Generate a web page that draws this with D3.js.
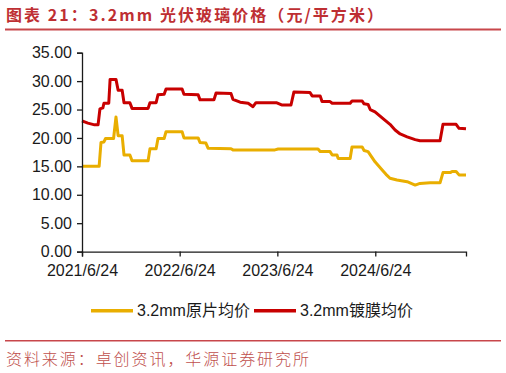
<!DOCTYPE html>
<html>
<head>
<meta charset="utf-8">
<script src="https://cdn.jsdelivr.net/npm/d3@7"></script>
<style>
  html, body { margin: 0; padding: 0; background: #fff; }
  svg { display: block; }
</style>
</head>
<body>
<div id="chart"></div>
<script>
// 图表常量
const WIDTH = 506;
const HEIGHT = 373;

// 3.2mm 原片均价（元/平方米）
const rawDates = [
  '2021-06-24', '2021-08-27', '2021-09-03', '2021-09-14', '2021-09-20', '2021-10-20',
  '2021-10-29', '2021-11-06', '2021-11-21', '2021-11-28', '2021-12-20', '2021-12-28',
  '2022-02-26', '2022-03-05', '2022-03-28', '2022-04-04', '2022-04-27', '2022-05-04',
  '2022-07-03', '2022-07-10', '2022-09-01', '2022-09-08', '2022-09-30', '2022-10-08',
  '2023-01-02', '2023-01-09', '2023-06-15', '2023-06-27', '2023-11-23', '2023-12-01',
  '2024-01-07', '2024-01-15', '2024-02-02', '2024-02-06', '2024-03-22', '2024-03-29',
  '2024-05-06', '2024-05-13', '2024-05-28', '2024-06-23', '2024-07-23', '2024-08-03',
  '2024-08-18', '2024-09-13', '2024-10-21', '2024-11-20', '2024-12-08', '2025-01-15',
  '2025-02-21', '2025-03-04', '2025-03-31', '2025-04-07', '2025-04-22', '2025-05-03',
  '2025-05-29'
];
const rawValues = [
  15.0, 15.0, 19.2, 19.3, 19.9, 19.9,
  23.7, 20.4, 20.4, 17.0, 17.0, 16.0,
  16.0, 18.1, 18.1, 19.9, 19.9, 21.1,
  21.1, 20.0, 20.0, 19.2, 19.1, 18.2,
  18.1, 17.9, 17.9, 18.05, 18.05, 17.6,
  17.6, 17.0, 17.0, 16.4, 16.4, 18.4,
  18.4, 17.8, 17.6, 15.8, 14.2, 13.6,
  12.9, 12.6, 12.3, 11.7, 12.0, 12.1,
  12.1, 13.9, 13.9, 14.1, 14.1, 13.5,
  13.5
];

// 3.2mm 镀膜均价（元/平方米）
const coatedDates = [
  '2021-06-24', '2021-07-16', '2021-08-10', '2021-08-23', '2021-08-30', '2021-09-10',
  '2021-09-14', '2021-10-02', '2021-10-07', '2021-10-29', '2021-11-06', '2021-11-21',
  '2021-11-28', '2021-12-20', '2021-12-28', '2022-02-26', '2022-03-05', '2022-03-28',
  '2022-04-04', '2022-04-27', '2022-05-04', '2022-07-03', '2022-07-10', '2022-09-01',
  '2022-09-08', '2022-10-30', '2022-11-07', '2023-01-02', '2023-01-09', '2023-02-05',
  '2023-03-07', '2023-03-25', '2023-04-05', '2023-06-20', '2023-07-10', '2023-08-14',
  '2023-08-25', '2023-10-24', '2023-11-01', '2023-12-01', '2023-12-08', '2024-01-07',
  '2024-01-15', '2024-03-22', '2024-03-29', '2024-05-06', '2024-05-13', '2024-05-28',
  '2024-06-05', '2024-06-23', '2024-07-23', '2024-08-18', '2024-09-06', '2024-09-25',
  '2024-10-21', '2024-11-20', '2024-12-08', '2025-02-21', '2025-03-04', '2025-04-22',
  '2025-05-03', '2025-05-29'
];
const coatedValues = [
  23.0, 22.6, 22.3, 22.3, 25.1, 25.3,
  26.1, 26.1, 30.3, 30.3, 28.4, 28.4,
  26.2, 26.2, 25.2, 25.2, 26.2, 26.2,
  27.6, 27.7, 28.6, 28.6, 27.7, 27.6,
  26.7, 26.7, 27.9, 27.8, 26.8, 26.3,
  26.1, 25.5, 26.2, 26.2, 25.8, 25.8,
  28.1, 28.0, 27.4, 27.4, 26.4, 26.4,
  26.1, 26.1, 26.5, 26.5, 26.0, 25.9,
  25.0, 24.6, 23.4, 22.4, 21.4, 20.7,
  20.2, 19.7, 19.5, 19.5, 22.4, 22.4,
  21.7, 21.6
];

// 坐标轴刻度
const yTicks = [0, 5, 10, 15, 20, 25, 30, 35];
const xTickDates = ['2021-06-24', '2022-06-24', '2023-06-24', '2024-06-24'];
const xDomain = ['2021-06-24', '2025-05-29'];

// 图例
const seriesNames = ['3.2mm原片均价', '3.2mm镀膜均价'];
const seriesColors = ['#E9AE00', '#C80000'];

const parseDate = d3.timeParse('%Y-%m-%d');
const fmtDate = d3.timeFormat('%Y/%-m/%-d');

const svg = d3.select('#chart')
  .append('svg')
  .attr('width', WIDTH)
  .attr('height', HEIGHT)
  .attr('viewBox', `0 0 ${WIDTH} ${HEIGHT}`);

// 标题
svg.append('text')
  .attr('x', 6)
  .attr('y', 20.5)
  .attr('font-family', '"Noto Sans CJK SC", sans-serif')
  .attr('font-size', '16px')
  .attr('font-weight', 'bold')
  .attr('fill', '#BE2F33')
  .attr('textLength', 377)
  .attr('lengthAdjust', 'spacing')
  .text('图表 21：3.2mm 光伏玻璃价格（元/平方米）');

svg.append('line')
  .attr('x1', 5).attr('x2', 501)
  .attr('y1', 29.5).attr('y2', 29.5)
  .attr('stroke', '#C8474B')
  .attr('stroke-width', 2);

// 比例尺
const x = d3.scaleTime()
  .domain(xDomain.map(parseDate))
  .range([82, 466]);

const y = d3.scaleLinear()
  .domain([0, 35])
  .range([251.6, 52.7]);

// 折线
const line = d3.line()
  .x(d => x(d.date))
  .y(d => y(d.value));

const series = [
  { name: seriesNames[0], color: seriesColors[0],
    points: rawDates.map((d, i) => ({ date: parseDate(d), value: rawValues[i] })) },
  { name: seriesNames[1], color: seriesColors[1],
    points: coatedDates.map((d, i) => ({ date: parseDate(d), value: coatedValues[i] })) }
];

svg.selectAll('.series')
  .data(series)
  .enter()
  .append('path')
  .attr('class', 'series')
  .attr('fill', 'none')
  .attr('stroke', d => d.color)
  .attr('stroke-width', 3)
  .attr('stroke-linejoin', 'round')
  .attr('d', d => line(d.points));

// Y 轴
const yAxis = svg.append('g')
  .attr('transform', 'translate(82,0)')
  .call(d3.axisLeft(y)
    .tickValues(yTicks)
    .tickFormat(d3.format('.2f'))
    .tickSizeOuter(0)
    .tickSize(5)
    .tickPadding(5));

// X 轴
const xAxis = svg.append('g')
  .attr('transform', 'translate(0,251.6)')
  .call(d3.axisBottom(x)
    .tickValues(xTickDates.map(parseDate))
    .tickFormat(fmtDate)
    .tickSizeOuter(0)
    .tickSize(5)
    .tickPadding(8));

[yAxis, xAxis].forEach(ax => {
  ax.selectAll('path.domain').attr('stroke', '#1a1a1a').attr('stroke-width', 1.3);
  ax.selectAll('.tick line').attr('stroke', '#1a1a1a').attr('stroke-width', 1.3);
  ax.selectAll('.tick text')
    .attr('fill', '#1a1a1a')
    .attr('font-family', '"Liberation Sans", Arial, sans-serif')
    .attr('font-size', '16px');
});

// 图例
const legendItems = [
  { name: seriesNames[0], color: seriesColors[0], x: 91 },
  { name: seriesNames[1], color: seriesColors[1], x: 254 }
];

const legend = svg.selectAll('.legend')
  .data(legendItems)
  .enter()
  .append('g')
  .attr('class', 'legend')
  .attr('transform', d => `translate(${d.x},310.7)`);

legend.append('line')
  .attr('x1', 0).attr('x2', 42)
  .attr('stroke', d => d.color)
  .attr('stroke-width', 3.5);

legend.append('text')
  .attr('x', 46)
  .attr('dy', '0.36em')
  .attr('font-family', '"Liberation Sans", "Noto Sans CJK SC", sans-serif')
  .attr('font-size', '16px')
  .attr('fill', '#1a1a1a')
  .text(d => d.name);

// 资料来源
svg.append('line')
  .attr('x1', 5).attr('x2', 501)
  .attr('y1', 340.7).attr('y2', 340.7)
  .attr('stroke', '#C8474B')
  .attr('stroke-width', 1.5);

svg.append('text')
  .attr('x', 6)
  .attr('y', 365)
  .attr('font-family', '"Noto Sans CJK SC", sans-serif')
  .attr('font-size', '16px')
  .attr('font-weight', 300)
  .attr('fill', '#C0504D')
  .attr('textLength', 303)
  .attr('lengthAdjust', 'spacing')
  .text('资料来源：卓创资讯，华源证券研究所');
</script>
</body>
</html>
